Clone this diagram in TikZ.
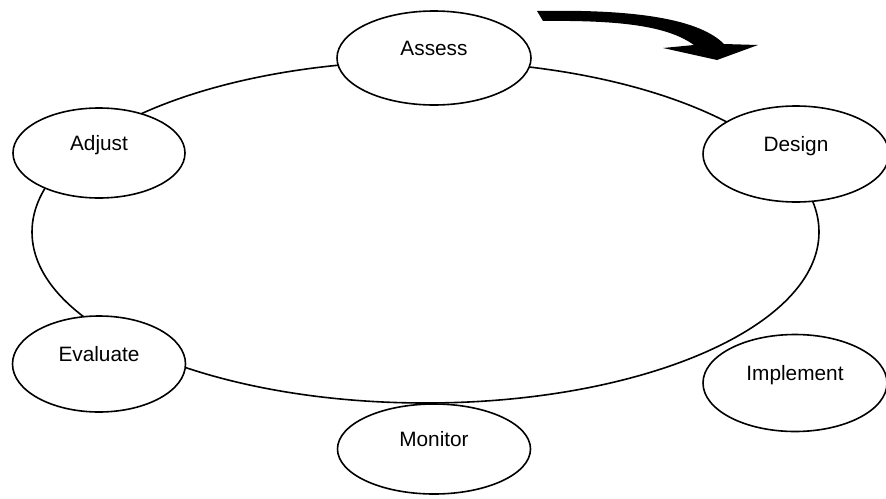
\documentclass[tikz,border=0pt]{standalone}
\usepackage{fontspec}
\setmainfont{Liberation Sans}
\usetikzlibrary{shapes.geometric}

\begin{document}
\begin{tikzpicture}[x=1pt, y=-1pt,
  every node/.style={font=\fontsize{20.8}{25}\selectfont},
  stage/.style={ellipse, draw, fill=white, line width=1.6pt, inner sep=0pt,
    text height=.72em, text depth=1.16em},
  cycle/.style={draw, line width=1.6pt}
]
\clip (0,0) rectangle (886,498);
% The loop behind the stages
\draw[cycle] (425.5,232) ellipse [x radius=393.5, y radius=171];
% Stages
\node[stage, minimum width=194pt, minimum height=94pt] (assess)    at (434,58)  {Assess};
\node[stage, minimum width=186pt, minimum height=96pt] (design)    at (796,154) {Design};
\node[stage, minimum width=184pt, minimum height=97pt] (implement) at (795,383) {Implement};
\node[stage, minimum width=193pt, minimum height=90pt] (monitor)   at (434,449) {Monitor};
\node[stage, minimum width=173pt, minimum height=96pt] (evaluate)  at (99,364)  {Evaluate};
\node[stage, minimum width=172pt, minimum height=90pt] (adjust)    at (99,153)  {Adjust};
% Direction of the cycle
\fill (537,11) .. controls (640,9) and (700,20) .. (724,44)
  -- (758,45) -- (717,60) -- (663,48) -- (694,45)
  .. controls (670,28) and (630,20) .. (543,21) -- cycle;
\end{tikzpicture}
\end{document}
